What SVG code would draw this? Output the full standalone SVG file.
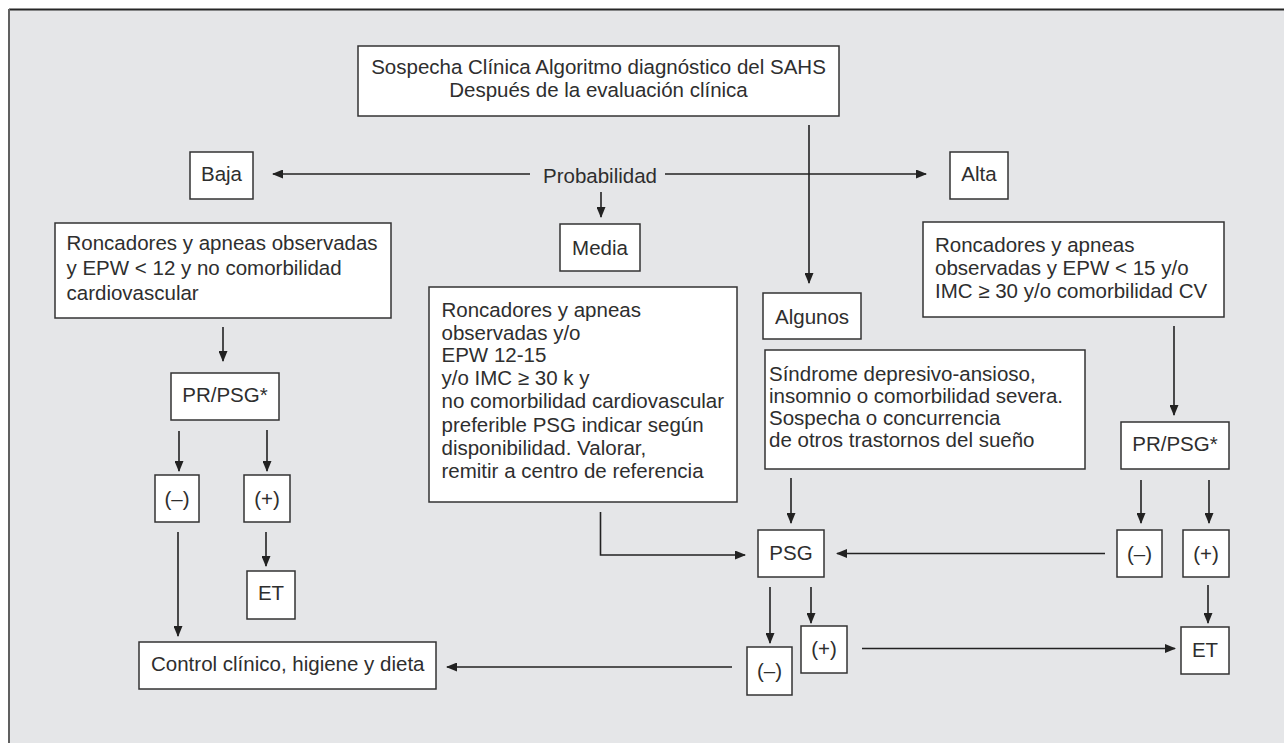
<svg xmlns="http://www.w3.org/2000/svg" width="1284" height="743" viewBox="0 0 1284 743">
  <style>
    .box { fill: #ffffff; stroke: #333333; stroke-width: 1.5; }
    .t { font-family: "Liberation Sans", Arial, sans-serif; font-size: 20.5px; fill: #2e2e2e; }
    .c { text-anchor: middle; }
    .ln { fill: none; stroke: #222222; stroke-width: 1.6; }
    .arr { marker-end: url(#head); }
  </style>
  <defs>
    <marker id="head" markerUnits="userSpaceOnUse" markerWidth="11" markerHeight="9" refX="10" refY="4.5" orient="auto">
      <path d="M0,0 L11,4.5 L0,9 Z" fill="#222222"/>
    </marker>
  </defs>

  <!-- background panel -->
  <rect x="0" y="0" width="1284" height="743" fill="#ffffff"/>
  <rect x="9" y="10" width="1290" height="750" fill="#e5e6e8"/>
  <line x1="9" y1="9.5" x2="1284" y2="9.5" stroke="#262626" stroke-width="2"/>
  <line x1="9" y1="9" x2="9" y2="743" stroke="#606060" stroke-width="2"/>

  <!-- connectors -->
  <g id="connectors">
    <line class="ln arr" x1="530" y1="174" x2="273" y2="174"/>
    <line class="ln arr" x1="665" y1="174" x2="926" y2="174"/>
    <line class="ln arr" x1="601" y1="192" x2="601" y2="217"/>
    <line class="ln arr" x1="809" y1="125" x2="809" y2="283"/>
    <line class="ln arr" x1="223" y1="327" x2="223" y2="361"/>
    <line class="ln arr" x1="179" y1="431" x2="179" y2="471"/>
    <line class="ln arr" x1="267" y1="430" x2="267" y2="471"/>
    <line class="ln arr" x1="178" y1="532" x2="178" y2="636"/>
    <line class="ln arr" x1="266" y1="532" x2="266" y2="566"/>
    <line class="ln arr" x1="791" y1="478" x2="791" y2="523"/>
    <polyline class="ln arr" points="600.5,512 600.5,555 745,555"/>
    <line class="ln arr" x1="1174" y1="326" x2="1174" y2="415"/>
    <line class="ln arr" x1="1141" y1="480" x2="1141" y2="523"/>
    <line class="ln arr" x1="1209" y1="480" x2="1209" y2="523"/>
    <line class="ln arr" x1="1105" y1="553.5" x2="837" y2="553.5"/>
    <line class="ln arr" x1="770" y1="587" x2="770" y2="643"/>
    <line class="ln arr" x1="811" y1="587" x2="811" y2="623"/>
    <line class="ln arr" x1="732" y1="667" x2="447" y2="667"/>
    <line class="ln arr" x1="862" y1="648.5" x2="1175" y2="648.5"/>
    <line class="ln arr" x1="1208" y1="585" x2="1208" y2="623"/>
  </g>

  <!-- nodes -->
  <g id="titulo">
    <rect class="box" x="358" y="46" width="481" height="70"/>
    <text class="t c" x="598.5" y="74">Sospecha Clínica Algoritmo diagnóstico del SAHS</text>
    <text class="t c" x="598.5" y="97">Después de la evaluación clínica</text>
  </g>

  <g id="probabilidad">
    <text class="t c" x="600" y="183">Probabilidad</text>
  </g>

  <g id="baja">
    <rect class="box" x="190" y="152" width="63" height="47"/>
    <text class="t c" x="221.5" y="181">Baja</text>
  </g>

  <g id="alta">
    <rect class="box" x="950" y="152" width="58" height="47"/>
    <text class="t c" x="979" y="181">Alta</text>
  </g>

  <g id="media">
    <rect class="box" x="560" y="224" width="80" height="47"/>
    <text class="t c" x="600" y="255">Media</text>
  </g>

  <g id="criterio-baja">
    <rect class="box" x="55" y="223" width="336" height="95"/>
    <text class="t" x="66.5" y="250">Roncadores y apneas observadas</text>
    <text class="t" x="66.5" y="275">y EPW &lt; 12 y no comorbilidad</text>
    <text class="t" x="66.5" y="300">cardiovascular</text>
  </g>

  <g id="prpsg-baja">
    <rect class="box" x="171" y="373" width="108" height="47"/>
    <text class="t c" x="225" y="402">PR/PSG*</text>
  </g>

  <g id="neg-baja">
    <rect class="box" x="155" y="475" width="44" height="47"/>
    <text class="t c" x="177" y="506">(–)</text>
  </g>

  <g id="pos-baja">
    <rect class="box" x="244" y="475" width="46" height="47"/>
    <text class="t c" x="267" y="506">(+)</text>
  </g>

  <g id="et-baja">
    <rect class="box" x="247" y="571" width="48" height="48"/>
    <text class="t c" x="271" y="600">ET</text>
  </g>

  <g id="control">
    <rect class="box" x="139" y="642" width="297" height="47"/>
    <text class="t" x="151" y="671">Control clínico, higiene y dieta</text>
  </g>

  <g id="criterio-media">
    <rect class="box" x="429" y="287" width="308" height="215"/>
    <text class="t" x="441.5" y="317">Roncadores y apneas</text>
    <text class="t" x="441.5" y="340">observadas y/o</text>
    <text class="t" x="441.5" y="362">EPW 12-15</text>
    <text class="t" x="441.5" y="385">y/o IMC ≥ 30 k y</text>
    <text class="t" x="441.5" y="408">no comorbilidad cardiovascular</text>
    <text class="t" x="441.5" y="431.5">preferible PSG indicar según</text>
    <text class="t" x="441.5" y="454.5">disponibilidad. Valorar,</text>
    <text class="t" x="441.5" y="478">remitir a centro de referencia</text>
  </g>

  <g id="algunos">
    <rect class="box" x="763" y="293" width="98" height="46"/>
    <text class="t" x="775" y="324">Algunos</text>
  </g>

  <g id="sindrome">
    <rect class="box" x="765" y="350" width="320" height="119"/>
    <text class="t" x="769" y="381">Síndrome depresivo-ansioso,</text>
    <text class="t" x="769" y="403">insomnio o comorbilidad severa.</text>
    <text class="t" x="769" y="425">Sospecha o concurrencia</text>
    <text class="t" x="769" y="447">de otros trastornos del sueño</text>
  </g>

  <g id="criterio-alta">
    <rect class="box" x="923" y="222" width="301" height="95"/>
    <text class="t" x="935" y="252">Roncadores y apneas</text>
    <text class="t" x="935" y="275">observadas y EPW &lt; 15 y/o</text>
    <text class="t" x="935" y="298">IMC ≥ 30 y/o comorbilidad CV</text>
  </g>

  <g id="prpsg-alta">
    <rect class="box" x="1121" y="422" width="108" height="47"/>
    <text class="t c" x="1175" y="451">PR/PSG*</text>
  </g>

  <g id="neg-alta">
    <rect class="box" x="1117" y="530" width="45" height="47"/>
    <text class="t c" x="1139.5" y="561">(–)</text>
  </g>

  <g id="pos-alta">
    <rect class="box" x="1183" y="530" width="46" height="47"/>
    <text class="t c" x="1206" y="561">(+)</text>
  </g>

  <g id="psg">
    <rect class="box" x="758" y="530" width="66" height="47"/>
    <text class="t c" x="791" y="560">PSG</text>
  </g>

  <g id="neg-psg">
    <rect class="box" x="747" y="647" width="45" height="48"/>
    <text class="t c" x="769.5" y="678">(–)</text>
  </g>

  <g id="pos-psg">
    <rect class="box" x="801" y="626" width="46" height="47"/>
    <text class="t c" x="824" y="656">(+)</text>
  </g>

  <g id="et-alta">
    <rect class="box" x="1181" y="627" width="48" height="47"/>
    <text class="t c" x="1205" y="657">ET</text>
  </g>
</svg>
